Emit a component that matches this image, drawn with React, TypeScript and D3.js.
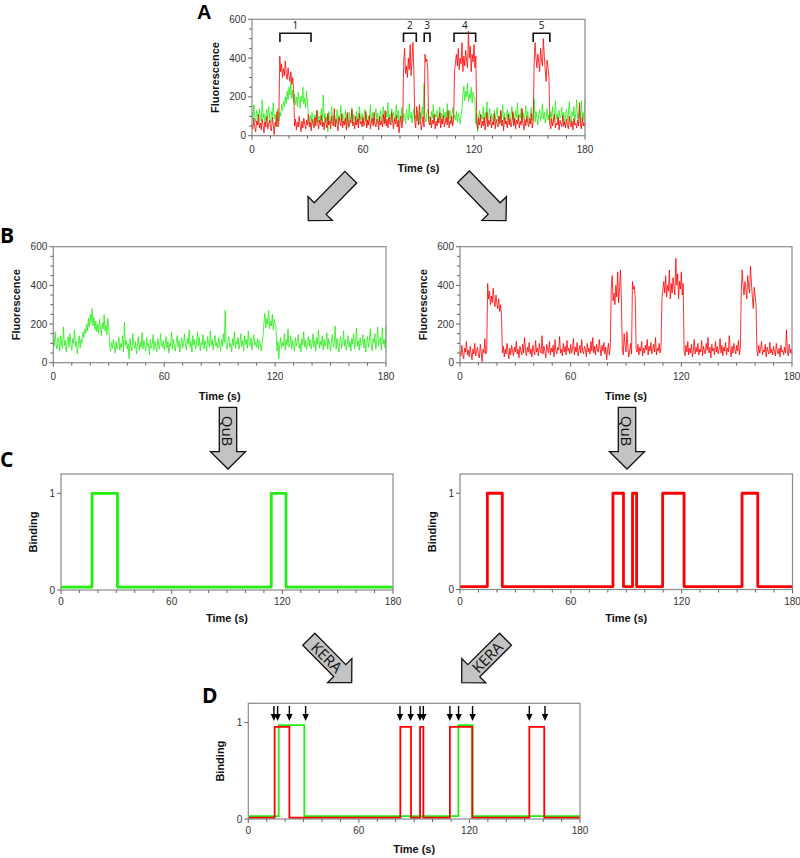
import React from "react";
import * as d3 from "d3";

// ---------- DATA ----------
const TIME_STEP = 0.5; // seconds between samples
const xTickLabels = [0, 60, 120, 180];
const fluorTickLabels = [0, 200, 400, 600];
const bindingTickLabels = [0, 1];

// Green channel (0 .. 180 s, every 0.5 s)
const greenTrace = [
  120, 85, 160, 95, 70, 130, 110, 60, 140, 100, 75, 185, 90, 115, 55, 105, 135, 80, 150, 95,
  65, 125, 100, 170, 85, 110, 45, 95, 140, 75, 120, 100, 160, 130, 175, 150, 200, 165, 230, 185,
  250, 210, 280, 190, 235, 170, 215, 160, 200, 150, 225, 180, 140, 205, 175, 250, 165, 195, 145, 230,
  175, 90, 60, 105, 75, 120, 85, 50, 110, 70, 95, 130, 65, 100, 80, 140, 55, 210, 90, 115,
  70, 100, 20, 125, 85, 60, 150, 95, 75, 110, 45, 90, 135, 65, 105, 80, 155, 70, 115, 90,
  60, 130, 85, 100, 40, 120, 75, 95, 145, 65, 110, 85, 55, 125, 90, 70, 150, 100, 80, 115,
  65, 95, 135, 75, 110, 50, 100, 85, 160, 70, 120, 90, 60, 105, 140, 80, 115, 55, 95, 130,
  75, 100, 150, 85, 65, 125, 95, 170, 80, 110, 55, 140, 90, 120, 70, 100, 160, 85, 130, 60,
  105, 90, 145, 70, 115, 95, 60, 135, 100, 80, 165, 90, 120, 65, 110, 140, 85, 105, 75, 130,
  95, 60, 120, 85, 150, 105, 270, 90, 70, 115, 135, 80, 100, 55, 125, 90, 160, 75, 110, 95,
  130, 70, 105, 150, 85, 115, 60, 140, 95, 120, 75, 165, 100, 85, 130, 65, 110, 145, 90, 105,
  80, 125, 70, 115, 95, 60, 100, 140, 210, 255, 180, 230, 200, 270, 175, 215, 190, 250, 170, 225,
  200, 185, 60, 110, 20, 95, 130, 75, 105, 85, 150, 65, 120, 90, 175, 80, 100, 140, 70, 115,
  95, 60, 130, 85, 110, 145, 75, 100, 55, 125, 90, 160, 80, 115, 65, 105, 135, 85, 120, 70,
  100, 150, 80, 115, 60, 130, 95, 170, 75, 110, 90, 140, 65, 120, 85, 105, 155, 70, 125, 95,
  60, 115, 145, 80, 100, 190, 70, 125, 90, 55, 110, 135, 75, 100, 165, 85, 120, 65, 95, 140,
  80, 110, 60, 125, 95, 150, 70, 105, 180, 85, 115, 65, 130, 90, 100, 145, 75, 120, 55, 105,
  135, 80, 110, 175, 90, 60, 125, 100, 150, 70, 115, 185, 85, 105, 130, 65, 180, 95, 120, 75, 190,
];

// Red channel (0 .. 180 s, every 0.5 s)
const redTrace = [
  60, 35, 90, 45, 20, 75, 55, 110, 40, 65, 30, 85, 50, 15, 70, 45, 100, 35, 60, 80,
  40, 25, 95, 55, 5, 70, 50, 125, 45, 60, 410, 330, 370, 300, 345, 310, 385, 320, 290, 350,
  305, 280, 330, 265, 300, 240, 50, 85, 30, 70, 45, 100, 55, 20, 75, 40, 90, 60, 35, 80,
  55, 110, 45, 70, 25, 85, 60, 40, 95, 50, 130, 65, 35, 80, 55, 105, 45, 70, 30, 90,
  60, 40, 115, 55, 75, 35, 100, 65, 50, 140, 45, 85, 60, 25, 95, 70, 50, 110, 40, 75,
  55, 90, 30, 120, 60, 45, 80, 65, 135, 50, 70, 35, 100, 55, 85, 40, 115, 60, 75, 45,
  95, 50, 70, 125, 40, 80, 55, 105, 35, 65, 90, 50, 120, 60, 45, 85, 70, 30, 100, 55,
  75, 45, 110, 60, 130, 50, 85, 40, 95, 65, 55, 120, 70, 35, 90, 60, 105, 45, 80, 15,
  65, 100, 40, 85, 380, 450, 320, 360, 300, 400, 340, 470, 310, 390, 480, 330, 70, 40, 150, 90,
  55, 160, 80, 30, 65, 100, 45, 420, 380, 395, 340, 70, 55, 95, 40, 80, 60, 110, 35, 75,
  50, 90, 65, 120, 40, 85, 60, 105, 45, 70, 95, 55, 130, 40, 75, 60, 100, 50, 85, 330,
  380, 420, 360, 450, 340, 400, 370, 480, 330, 410, 360, 440, 390, 350, 540, 400, 460, 330, 420, 380,
  470, 350, 410, 60, 35, 90, 55, 110, 40, 75, 50, 95, 30, 65, 120, 45, 80, 55, 100, 40,
  70, 55, 115, 35, 85, 60, 45, 100, 65, 130, 50, 80, 25, 95, 60, 75, 40, 110, 55, 85,
  45, 70, 125, 50, 90, 35, 80, 60, 105, 40, 75, 55, 140, 65, 30, 85, 50, 100, 70, 45,
  90, 60, 115, 40, 75, 370, 480, 400, 350, 420, 380, 330, 450, 390, 360, 500, 410, 340, 280, 390,
  350, 300, 60, 35, 90, 50, 75, 110, 40, 65, 55, 95, 30, 80, 60, 45, 105, 50, 70, 40,
  85, 55, 35, 100, 60, 45, 75, 30, 90, 55, 65, 40, 80, 50, 170, 60, 35, 95, 50, 70, 45,
];

// Brackets over binding events in panel A (seconds)
const bracketLabels = ["1", "2", "3", "4", "5"];
const bracketStarts = [15.1, 81.9, 93.1, 109.2, 152.0];
const bracketEnds = [31.9, 88.8, 96.2, 120.9, 161.0];

// QuB idealised binding events (start, end) in seconds
const greenQubStarts = [16.8, 114.0];
const greenQubEnds = [30.6, 122.0];
const redQubStarts = [14.8, 82.8, 93.4, 109.7, 152.7];
const redQubEnds = [22.9, 88.5, 95.6, 121.3, 161.2];

// KERA combined events (start, end) in seconds
const greenKeraStarts = [16.5, 114.0];
const greenKeraEnds = [30.4, 121.8];
const redKeraStarts = [14.3, 82.5, 93.2, 109.4, 152.5];
const redKeraEnds = [22.3, 88.3, 95.0, 121.5, 160.6];
const keraArrowTimes = [13.9, 15.9, 22.3, 31.1, 82.3, 88.1, 93.2, 95.0, 109.4, 114.1, 121.7, 152.5, 161.0];

// ---------- HELPERS ----------
const TICK_FONT = "'Liberation Sans', Arial, sans-serif";
const TITLE_FONT = "'Liberation Sans', Arial, sans-serif";
const LETTER_FONT = "'Open Sans', 'Noto Sans', sans-serif";
const GREEN = "#22ee11";
const RED = "#ff0000";

type Box = { x0: number; x1: number; y0: number; y1: number };

function stepPoints(starts: number[], ends: number[], low: number, high: number): [number, number][] {
  const pts: [number, number][] = [[0, low]];
  starts.forEach((s, i) => {
    pts.push([s, low], [s, high], [ends[i], high], [ends[i], low]);
  });
  pts.push([180, low]);
  return pts;
}

function blockArrow(tx: number, ty: number, hx: number, hy: number, sw: number, hw: number, hl: number) {
  const dx = hx - tx, dy = hy - ty;
  const L = Math.hypot(dx, dy);
  const ux = dx / L, uy = dy / L;
  const nx = -uy, ny = ux;
  const b = L - hl;
  const p = (a: number, n: number) => `${(tx + ux * a + nx * n).toFixed(2)},${(ty + uy * a + ny * n).toFixed(2)}`;
  return [p(0, -sw), p(b, -sw), p(b, -hw), p(L, 0), p(b, hw), p(b, sw), p(0, sw)].join(" ");
}

function Panel({
  box, yDomain, yLabels, yMinorStep, yTitle, titleOffsetY, tickOffsetY, children,
}: {
  box: Box; yDomain: [number, number]; yLabels: number[]; yMinorStep: number | null; yTitle: string;
  titleOffsetY: number; tickOffsetY: number;
  children: (x: d3.ScaleLinear<number, number>, y: d3.ScaleLinear<number, number>) => React.ReactNode;
}) {
  const x = d3.scaleLinear().domain([0, 180]).range([box.x0, box.x1]);
  const y = d3.scaleLinear().domain(yDomain).range([box.y1, box.y0]);
  const xMinor = d3.range(0, 180.001, 10);
  const yMinor = yMinorStep ? d3.range(yDomain[0], yDomain[1] + 0.001, yMinorStep) : yLabels;
  const axisColor = "#666";
  return (
    <g>
      {children(x, y)}
      <rect x={box.x0} y={box.y0} width={box.x1 - box.x0} height={box.y1 - box.y0} fill="none" stroke="#8a8a8a" strokeWidth={1.2} />
      {xMinor.map((t) => (
        <line key={"xm" + t} x1={x(t)} x2={x(t)} y1={box.y1} y2={box.y1 + (t % 60 === 0 ? 4 : 3)} stroke={axisColor} strokeWidth={1} />
      ))}
      {yMinor.map((v) => (
        <line key={"ym" + v} x1={box.x0 - (yLabels.includes(v) ? 4 : 3)} x2={box.x0} y1={y(v)} y2={y(v)} stroke={axisColor} strokeWidth={1} />
      ))}
      {xTickLabels.map((t) => (
        <text key={"xl" + t} x={x(t)} y={box.y1 + tickOffsetY} textAnchor="middle" fontFamily={TICK_FONT} fontSize={10} fill="#333">
          {t}
        </text>
      ))}
      {yLabels.map((v) => (
        <text key={"yl" + v} x={box.x0 - 6} y={y(v) + 3.5} textAnchor="end" fontFamily={TICK_FONT} fontSize={10} fill="#333">
          {v}
        </text>
      ))}
      <text x={(box.x0 + box.x1) / 2} y={box.y1 + titleOffsetY} textAnchor="middle" fontFamily={TITLE_FONT} fontWeight="bold" fontSize={11} fill="#111">
        Time (s)
      </text>
      <text
        transform={`translate(${box.x0 - (yTitle === "Binding" ? 28 : 37) + 4},${(box.y0 + box.y1) / 2}) rotate(-90)`}
        textAnchor="middle" fontFamily={TITLE_FONT} fontWeight="bold" fontSize={11} fill="#111"
      >
        {yTitle}
      </text>
    </g>
  );
}

function traceLine(values: number[], x: d3.ScaleLinear<number, number>, y: d3.ScaleLinear<number, number>) {
  return d3.line<number>().x((_, i) => x(i * TIME_STEP)).y((v) => y(v))(values) || "";
}

function stepLine(pts: [number, number][], x: d3.ScaleLinear<number, number>, y: d3.ScaleLinear<number, number>) {
  return d3.line<[number, number]>().x((d) => x(d[0])).y((d) => y(d[1]))(pts) || "";
}

export default function App() {
  const boxA: Box = { x0: 252, x1: 585, y0: 19.3, y1: 135.7 };
  const boxBL: Box = { x0: 53.3, x1: 386, y0: 246.7, y1: 362.7 };
  const boxBR: Box = { x0: 460, x1: 792, y0: 246.7, y1: 362.7 };
  const boxCL: Box = { x0: 61, x1: 393, y0: 474, y1: 590 };
  const boxCR: Box = { x0: 460, x1: 792.5, y0: 474, y1: 589.5 };
  const boxD: Box = { x0: 248.3, x1: 580, y0: 703.3, y1: 819 };

  const arrowStyle = { fill: "#c3c3c3", stroke: "#111", strokeWidth: 1.3, strokeLinejoin: "miter" as const };
  const arrowText = { fontFamily: LETTER_FONT, fontSize: 15, fill: "#111", textAnchor: "middle" as const, dominantBaseline: "central" as const };

  return (
    <svg width={800} height={858} style={{ position: "absolute", left: 0, top: 0, background: "#fff" }}>
      <rect x={0} y={0} width={800} height={858} fill="#fff" />
      {/* Panel letters */}
      <text x={197} y={19} fontFamily="'Liberation Sans', Arial, sans-serif" fontWeight="bold" fontSize={20}>A</text>
      <text x={0} y={243} fontFamily={LETTER_FONT} fontWeight="bold" fontSize={21}>B</text>
      <text x={0} y={467} fontFamily={LETTER_FONT} fontWeight="bold" fontSize={21}>C</text>
      <text x={202} y={703} fontFamily={LETTER_FONT} fontWeight="bold" fontSize={21}>D</text>

      {/* Panel A */}
      <Panel box={boxA} yDomain={[0, 600]} yLabels={fluorTickLabels} yMinorStep={50} yTitle="Fluorescence" titleOffsetY={36} tickOffsetY={17}>
        {(x, y) => (
          <g>
            <path d={traceLine(greenTrace, x, y)} fill="none" stroke={GREEN} strokeWidth={0.8} />
            <path d={traceLine(redTrace, x, y)} fill="none" stroke={RED} strokeWidth={0.8} />
            {bracketLabels.map((lab, i) => (
              <g key={lab}>
                <path
                  d={`M${x(bracketStarts[i])},42 L${x(bracketStarts[i])},33.3 L${x(bracketEnds[i])},33.3 L${x(bracketEnds[i])},42`}
                  fill="none" stroke="#111" strokeWidth={1.6}
                />
                <text x={(x(bracketStarts[i]) + x(bracketEnds[i])) / 2} y={29} textAnchor="middle" fontFamily={LETTER_FONT} fontSize={10} fill="#111">
                  {lab}
                </text>
              </g>
            ))}
          </g>
        )}
      </Panel>

      {/* Panel B */}
      <Panel box={boxBL} yDomain={[0, 600]} yLabels={fluorTickLabels} yMinorStep={50} yTitle="Fluorescence" titleOffsetY={37} tickOffsetY={17}>
        {(x, y) => <path d={traceLine(greenTrace, x, y)} fill="none" stroke={GREEN} strokeWidth={0.8} />}
      </Panel>
      <Panel box={boxBR} yDomain={[0, 600]} yLabels={fluorTickLabels} yMinorStep={50} yTitle="Fluorescence" titleOffsetY={37} tickOffsetY={17}>
        {(x, y) => <path d={traceLine(redTrace, x, y)} fill="none" stroke={RED} strokeWidth={0.8} />}
      </Panel>

      {/* Panel C */}
      <Panel box={boxCL} yDomain={[0, 1.2]} yLabels={bindingTickLabels} yMinorStep={null} yTitle="Binding" titleOffsetY={32} tickOffsetY={15}>
        {(x, y) => (
          <path d={stepLine(stepPoints(greenQubStarts, greenQubEnds, 0.03, 1), x, y)} fill="none" stroke={GREEN} strokeWidth={2.8} strokeLinejoin="round" />
        )}
      </Panel>
      <Panel box={boxCR} yDomain={[0, 1.2]} yLabels={bindingTickLabels} yMinorStep={null} yTitle="Binding" titleOffsetY={32} tickOffsetY={15}>
        {(x, y) => (
          <path d={stepLine(stepPoints(redQubStarts, redQubEnds, 0.03, 1), x, y)} fill="none" stroke={RED} strokeWidth={2.8} strokeLinejoin="round" />
        )}
      </Panel>

      {/* Panel D */}
      <Panel box={boxD} yDomain={[0, 1.2]} yLabels={bindingTickLabels} yMinorStep={null} yTitle="Binding" titleOffsetY={33.5} tickOffsetY={15}>
        {(x, y) => (
          <g>
            <path d={stepLine(stepPoints(greenKeraStarts, greenKeraEnds, 0.03, 0.973), x, y)} fill="none" stroke={GREEN} strokeWidth={1.8} />
            <path d={stepLine(stepPoints(redKeraStarts, redKeraEnds, 0.013, 0.955), x, y)} fill="none" stroke={RED} strokeWidth={1.8} />
            {keraArrowTimes.map((t, i) => (
              <g key={i}>
                <line x1={x(t)} x2={x(t)} y1={706} y2={715} stroke="#000" strokeWidth={1.4} />
                <path d={`M${x(t) - 3.2},714 L${x(t) + 3.2},714 L${x(t)},721 Z`} fill="#000" />
              </g>
            ))}
          </g>
        )}
      </Panel>

      {/* Block arrows A -> B */}
      <polygon points={blockArrow(350.8, 177.2, 308.3, 220.7, 8.3, 17, 17)} {...arrowStyle} />
      <polygon points={blockArrow(463.5, 176.7, 506, 220.7, 8.3, 17, 17)} {...arrowStyle} />

      {/* QuB arrows B -> C */}
      <polygon points={blockArrow(228, 407.3, 228, 469, 8.7, 17.5, 17.3)} {...arrowStyle} />
      <polygon points={blockArrow(627, 407.3, 627, 469, 8.7, 17.5, 17.3)} {...arrowStyle} />
      <text transform="translate(228,431) rotate(90)" {...arrowText}>QuB</text>
      <text transform="translate(627,431) rotate(90)" {...arrowText}>QuB</text>

      {/* KERA arrows C -> D */}
      <polygon points={blockArrow(308.8, 639.2, 351.7, 682.7, 8.5, 17, 17)} {...arrowStyle} />
      <polygon points={blockArrow(505.5, 639.2, 461.7, 682.7, 8.5, 17, 17)} {...arrowStyle} />
      <text transform="translate(327,657) rotate(45)" {...arrowText}>KERA</text>
      <text transform="translate(487,657) rotate(-45)" {...arrowText}>KERA</text>
    </svg>
  );
}
